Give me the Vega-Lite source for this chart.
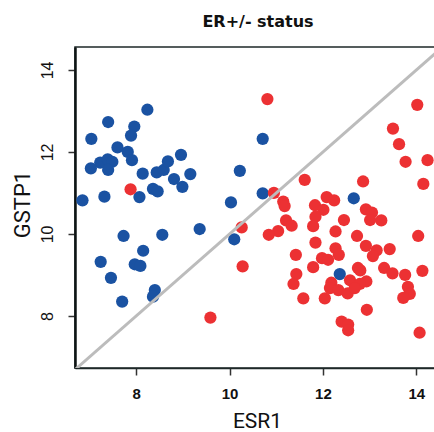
{
  "$schema": "https://vega.github.io/schema/vega-lite/v6.json",
  "autosize": "none",
  "padding": {"left": 75, "top": 47, "right": 0, "bottom": 64},
  "width": 360,
  "height": 321,
  "background": "white",
  "title": {
    "text": "ER+/- status",
    "font": "DejaVu Sans",
    "fontSize": 16,
    "fontWeight": "bold",
    "color": "#111111",
    "anchor": "middle",
    "baseline": "alphabetic",
    "offset": 4,
    "dx": 3
  },
  "config": {
    "view": {"stroke": "#1e2828", "strokeWidth": 1.5},
    "axis": {"grid": false}
  },
  "datasets": {
    "pts": [
      {"esr1": 8.24, "gstp1": 13.03, "status": "neg"},
      {"esr1": 7.40, "gstp1": 12.73, "status": "neg"},
      {"esr1": 7.96, "gstp1": 12.62, "status": "neg"},
      {"esr1": 7.04, "gstp1": 12.32, "status": "neg"},
      {"esr1": 7.89, "gstp1": 12.40, "status": "neg"},
      {"esr1": 7.60, "gstp1": 12.11, "status": "neg"},
      {"esr1": 7.82, "gstp1": 12.00, "status": "neg"},
      {"esr1": 7.91, "gstp1": 11.80, "status": "neg"},
      {"esr1": 7.23, "gstp1": 11.74, "status": "neg"},
      {"esr1": 7.39, "gstp1": 11.82, "status": "neg"},
      {"esr1": 7.49, "gstp1": 11.76, "status": "neg"},
      {"esr1": 7.40, "gstp1": 11.56, "status": "neg"},
      {"esr1": 7.03, "gstp1": 11.60, "status": "neg"},
      {"esr1": 8.14, "gstp1": 11.47, "status": "neg"},
      {"esr1": 8.44, "gstp1": 11.50, "status": "neg"},
      {"esr1": 8.59, "gstp1": 11.56, "status": "neg"},
      {"esr1": 8.68, "gstp1": 11.77, "status": "neg"},
      {"esr1": 8.96, "gstp1": 11.93, "status": "neg"},
      {"esr1": 8.81, "gstp1": 11.34, "status": "neg"},
      {"esr1": 9.16, "gstp1": 11.46, "status": "neg"},
      {"esr1": 8.99, "gstp1": 11.15, "status": "neg"},
      {"esr1": 8.36, "gstp1": 11.10, "status": "neg"},
      {"esr1": 8.46, "gstp1": 11.04, "status": "neg"},
      {"esr1": 8.07, "gstp1": 10.90, "status": "neg"},
      {"esr1": 7.32, "gstp1": 10.91, "status": "neg"},
      {"esr1": 6.85, "gstp1": 10.82, "status": "neg"},
      {"esr1": 10.22, "gstp1": 11.54, "status": "neg"},
      {"esr1": 10.71, "gstp1": 12.32, "status": "neg"},
      {"esr1": 10.71, "gstp1": 10.99, "status": "neg"},
      {"esr1": 10.03, "gstp1": 10.77, "status": "neg"},
      {"esr1": 9.36, "gstp1": 10.12, "status": "neg"},
      {"esr1": 7.73, "gstp1": 9.95, "status": "neg"},
      {"esr1": 8.56, "gstp1": 9.98, "status": "neg"},
      {"esr1": 10.10, "gstp1": 9.87, "status": "neg"},
      {"esr1": 8.15, "gstp1": 9.59, "status": "neg"},
      {"esr1": 7.24, "gstp1": 9.32, "status": "neg"},
      {"esr1": 7.97, "gstp1": 9.26, "status": "neg"},
      {"esr1": 8.09, "gstp1": 9.22, "status": "neg"},
      {"esr1": 7.46, "gstp1": 8.93, "status": "neg"},
      {"esr1": 8.40, "gstp1": 8.63, "status": "neg"},
      {"esr1": 8.36, "gstp1": 8.47, "status": "neg"},
      {"esr1": 7.70, "gstp1": 8.35, "status": "neg"},
      {"esr1": 12.66, "gstp1": 10.87, "status": "neg"},
      {"esr1": 12.36, "gstp1": 9.02, "status": "neg"},
      {"esr1": 7.88, "gstp1": 11.09, "status": "pos"},
      {"esr1": 10.81, "gstp1": 13.29, "status": "pos"},
      {"esr1": 10.26, "gstp1": 10.16, "status": "pos"},
      {"esr1": 10.28, "gstp1": 9.21, "status": "pos"},
      {"esr1": 9.59, "gstp1": 7.96, "status": "pos"},
      {"esr1": 14.02, "gstp1": 13.15, "status": "pos"},
      {"esr1": 13.50, "gstp1": 12.57, "status": "pos"},
      {"esr1": 13.63, "gstp1": 12.19, "status": "pos"},
      {"esr1": 13.77, "gstp1": 11.76, "status": "pos"},
      {"esr1": 14.24, "gstp1": 11.80, "status": "pos"},
      {"esr1": 14.15, "gstp1": 11.22, "status": "pos"},
      {"esr1": 12.86, "gstp1": 11.28, "status": "pos"},
      {"esr1": 11.61, "gstp1": 11.32, "status": "pos"},
      {"esr1": 10.95, "gstp1": 11.00, "status": "pos"},
      {"esr1": 11.15, "gstp1": 10.79, "status": "pos"},
      {"esr1": 11.18, "gstp1": 10.68, "status": "pos"},
      {"esr1": 12.08, "gstp1": 10.90, "status": "pos"},
      {"esr1": 12.24, "gstp1": 10.82, "status": "pos"},
      {"esr1": 11.83, "gstp1": 10.70, "status": "pos"},
      {"esr1": 12.01, "gstp1": 10.59, "status": "pos"},
      {"esr1": 12.92, "gstp1": 10.60, "status": "pos"},
      {"esr1": 13.05, "gstp1": 10.52, "status": "pos"},
      {"esr1": 13.01, "gstp1": 10.34, "status": "pos"},
      {"esr1": 13.25, "gstp1": 10.33, "status": "pos"},
      {"esr1": 12.45, "gstp1": 10.34, "status": "pos"},
      {"esr1": 11.84, "gstp1": 10.42, "status": "pos"},
      {"esr1": 11.79, "gstp1": 10.19, "status": "pos"},
      {"esr1": 11.21, "gstp1": 10.33, "status": "pos"},
      {"esr1": 11.33, "gstp1": 10.20, "status": "pos"},
      {"esr1": 11.04, "gstp1": 10.07, "status": "pos"},
      {"esr1": 10.84, "gstp1": 9.98, "status": "pos"},
      {"esr1": 12.27, "gstp1": 10.06, "status": "pos"},
      {"esr1": 12.73, "gstp1": 9.95, "status": "pos"},
      {"esr1": 14.04, "gstp1": 9.95, "status": "pos"},
      {"esr1": 11.84, "gstp1": 9.79, "status": "pos"},
      {"esr1": 12.92, "gstp1": 9.71, "status": "pos"},
      {"esr1": 13.15, "gstp1": 9.60, "status": "pos"},
      {"esr1": 13.07, "gstp1": 9.46, "status": "pos"},
      {"esr1": 13.43, "gstp1": 9.63, "status": "pos"},
      {"esr1": 12.27, "gstp1": 9.65, "status": "pos"},
      {"esr1": 12.34, "gstp1": 9.49, "status": "pos"},
      {"esr1": 11.42, "gstp1": 9.49, "status": "pos"},
      {"esr1": 11.98, "gstp1": 9.41, "status": "pos"},
      {"esr1": 12.11, "gstp1": 9.37, "status": "pos"},
      {"esr1": 11.79, "gstp1": 9.19, "status": "pos"},
      {"esr1": 12.75, "gstp1": 9.17, "status": "pos"},
      {"esr1": 12.80, "gstp1": 9.11, "status": "pos"},
      {"esr1": 13.31, "gstp1": 9.17, "status": "pos"},
      {"esr1": 13.49, "gstp1": 9.04, "status": "pos"},
      {"esr1": 13.76, "gstp1": 9.00, "status": "pos"},
      {"esr1": 14.13, "gstp1": 9.10, "status": "pos"},
      {"esr1": 11.43, "gstp1": 9.02, "status": "pos"},
      {"esr1": 11.37, "gstp1": 8.78, "status": "pos"},
      {"esr1": 12.18, "gstp1": 8.81, "status": "pos"},
      {"esr1": 12.15, "gstp1": 8.68, "status": "pos"},
      {"esr1": 12.33, "gstp1": 8.63, "status": "pos"},
      {"esr1": 12.58, "gstp1": 8.87, "status": "pos"},
      {"esr1": 12.53, "gstp1": 8.55, "status": "pos"},
      {"esr1": 12.93, "gstp1": 8.84, "status": "pos"},
      {"esr1": 12.79, "gstp1": 8.78, "status": "pos"},
      {"esr1": 12.68, "gstp1": 8.68, "status": "pos"},
      {"esr1": 13.82, "gstp1": 8.71, "status": "pos"},
      {"esr1": 13.86, "gstp1": 8.54, "status": "pos"},
      {"esr1": 13.72, "gstp1": 8.44, "status": "pos"},
      {"esr1": 11.58, "gstp1": 8.43, "status": "pos"},
      {"esr1": 12.04, "gstp1": 8.43, "status": "pos"},
      {"esr1": 12.94, "gstp1": 8.15, "status": "pos"},
      {"esr1": 12.40, "gstp1": 7.86, "status": "pos"},
      {"esr1": 12.54, "gstp1": 7.79, "status": "pos"},
      {"esr1": 12.54, "gstp1": 7.65, "status": "pos"},
      {"esr1": 14.07, "gstp1": 7.59, "status": "pos"}
    ],
    "diag": [
      {"v": 6.4},
      {"v": 14.8}
    ]
  },
  "layer": [
    {
      "data": {"name": "pts"},
      "mark": {"type": "circle", "size": 150, "opacity": 1, "clip": true},
      "encoding": {
        "x": {
          "field": "esr1",
          "type": "quantitative",
          "scale": {"domain": [6.69, 14.4], "nice": false, "zero": false},
          "axis": {
            "title": "ESR1",
            "values": [8, 10, 12, 14],
            "domain": true,
            "domainColor": "#1e2828",
            "domainWidth": 1.5,
            "tickColor": "#333333",
            "tickWidth": 1.5,
            "tickSize": 7,
            "labelFont": "Liberation Sans",
            "labelFontSize": 15,
            "labelFontWeight": "bold",
            "labelColor": "#111111",
            "labelBaseline": "top",
            "labelPadding": 11,
            "titleFont": "Roboto",
            "titleFontSize": 21,
            "titleFontWeight": "normal",
            "titleColor": "#111111",
            "titleBaseline": "alphabetic",
            "titleY": 59,
            "titleX": 182
          }
        },
        "y": {
          "field": "gstp1",
          "type": "quantitative",
          "scale": {"domain": [6.73, 14.56], "nice": false, "zero": false},
          "axis": {
            "title": "GSTP1",
            "values": [8, 10, 12, 14],
            "domain": true,
            "domainColor": "#0e1414",
            "domainWidth": 2.5,
            "tickColor": "#333333",
            "tickWidth": 1.5,
            "tickSize": 7,
            "labelFont": "Liberation Sans",
            "labelFontSize": 16,
            "labelColor": "#111111",
            "labelAngle": -90,
            "labelAlign": "center",
            "labelBaseline": "alphabetic",
            "labelPadding": 16,
            "titleFont": "Roboto",
            "titleFontSize": 22,
            "titleFontWeight": "normal",
            "titleColor": "#111111",
            "titleAngle": -90,
            "titleAlign": "center",
            "titleBaseline": "alphabetic",
            "titleX": -46,
            "titleY": 157
          }
        },
        "color": {
          "field": "status",
          "type": "nominal",
          "scale": {"domain": ["neg", "pos"], "range": ["#1a52a2", "#ec3133"]},
          "legend": null
        }
      }
    },
    {
      "data": {"name": "diag"},
      "mark": {"type": "line", "color": "#bcbcbc", "strokeWidth": 3, "clip": true},
      "encoding": {
        "x": {"field": "v", "type": "quantitative"},
        "y": {"field": "v", "type": "quantitative"}
      }
    }
  ]
}
